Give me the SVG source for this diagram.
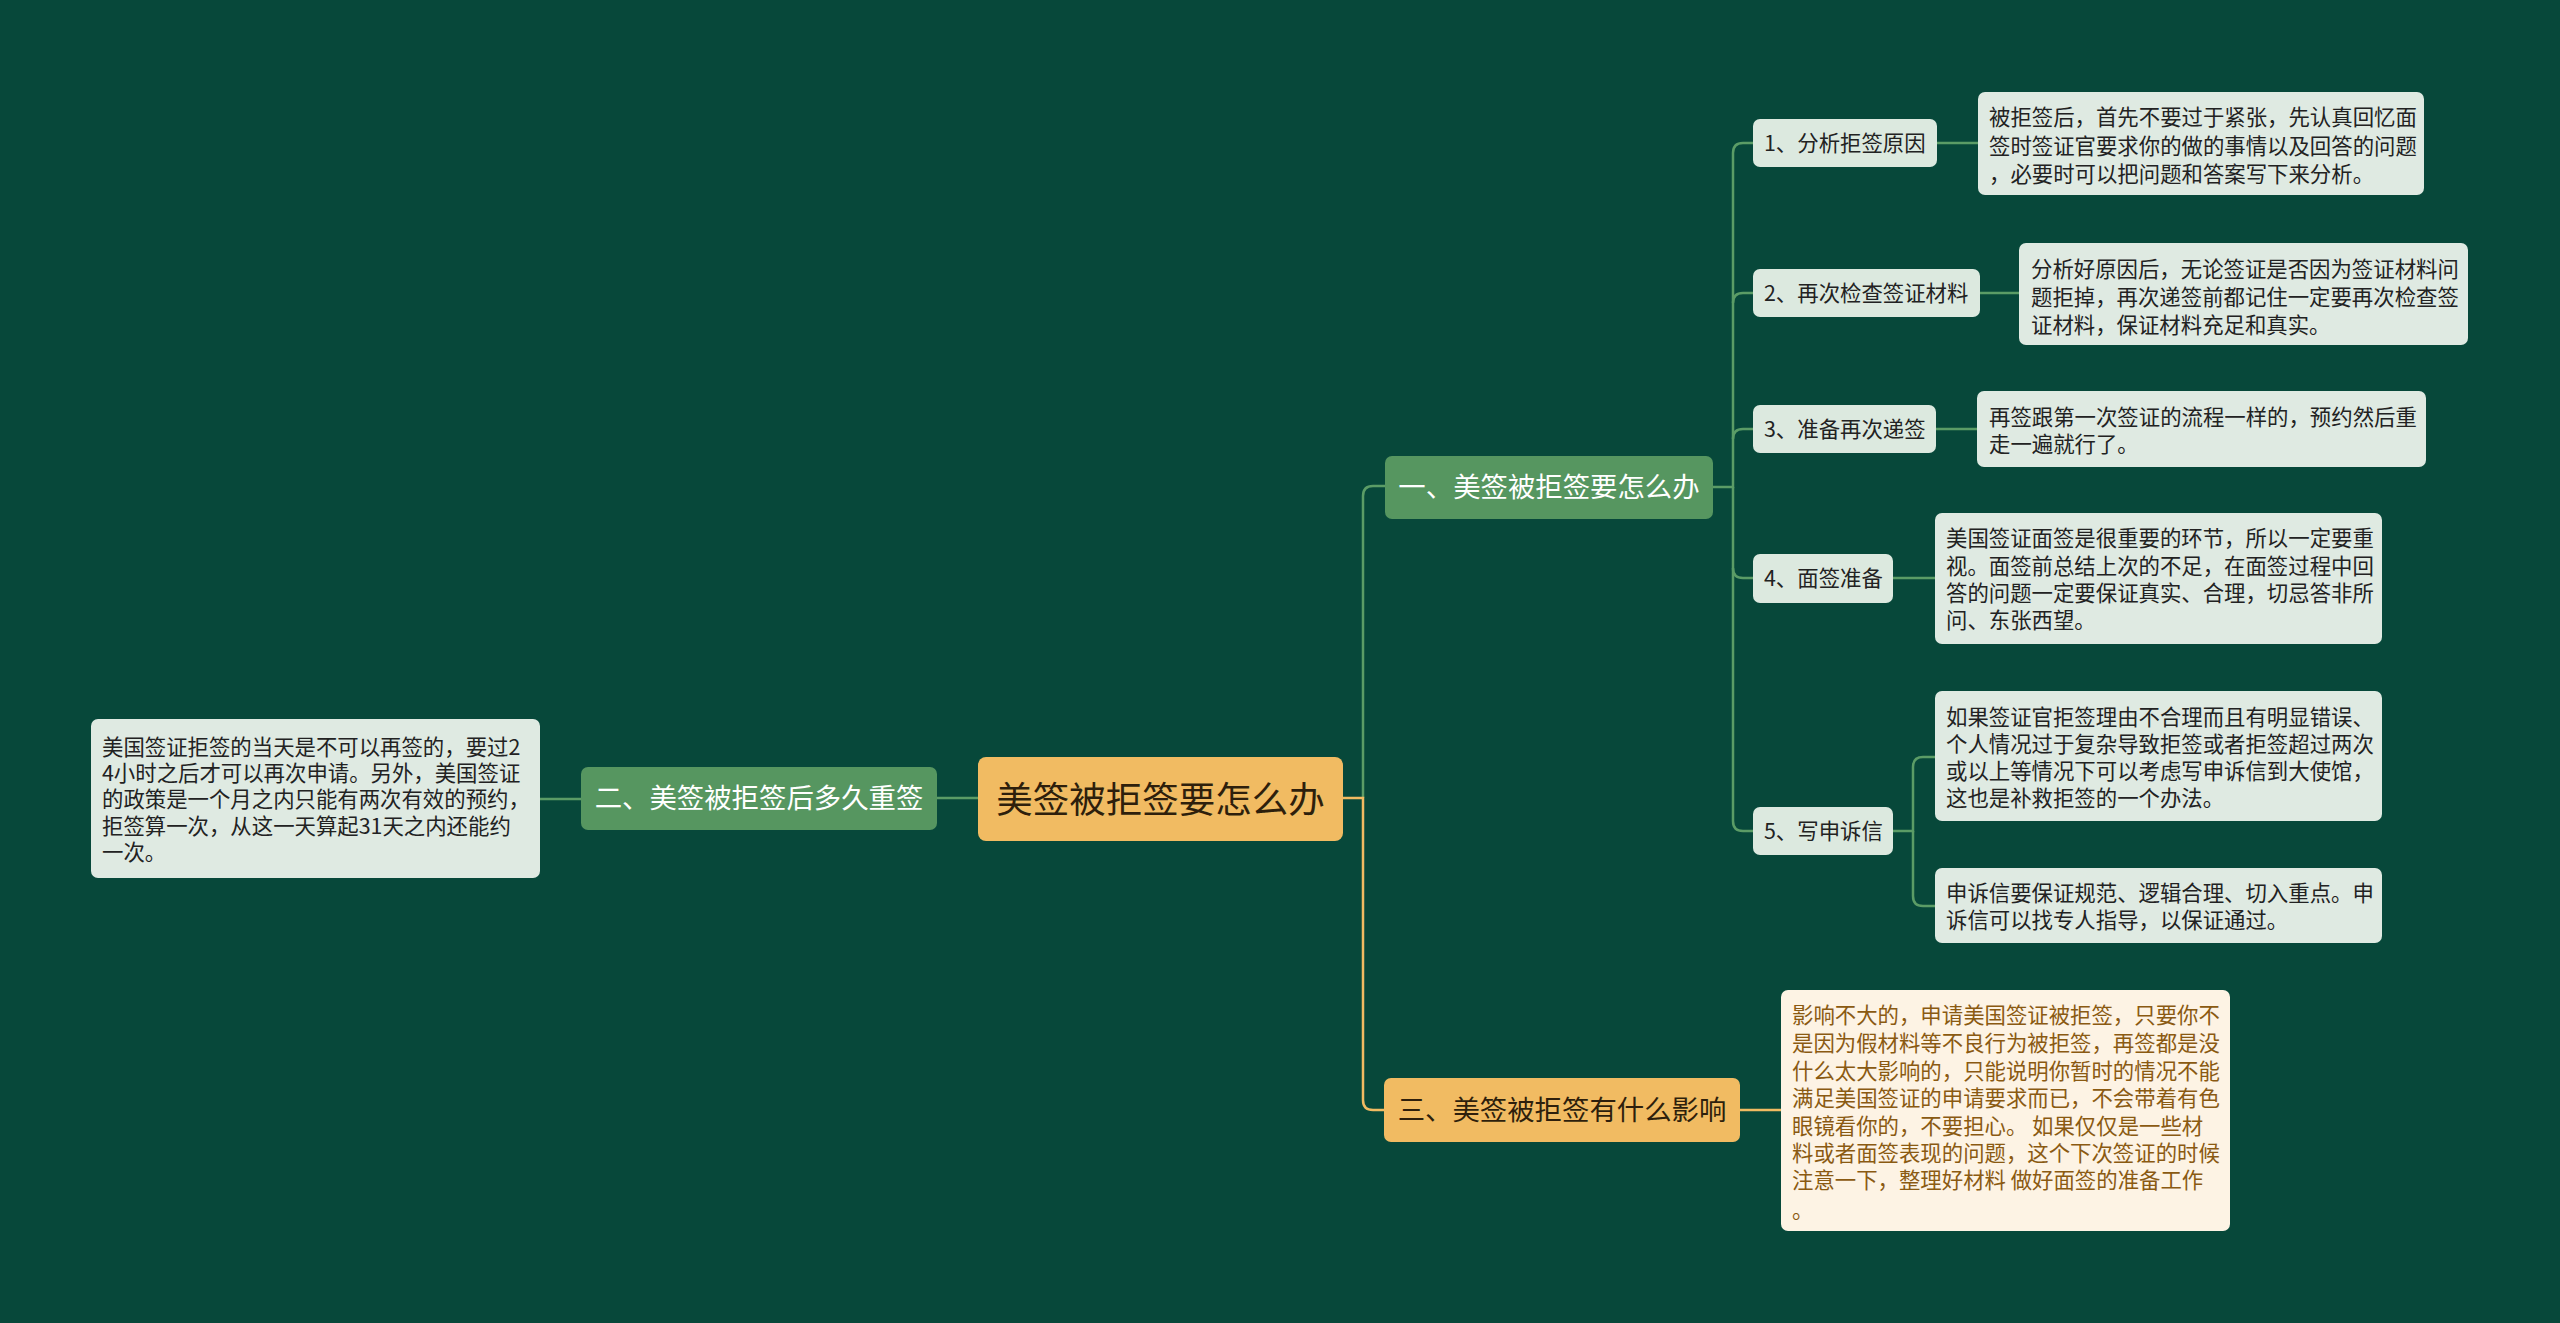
<svg xmlns="http://www.w3.org/2000/svg" width="2560" height="1323" viewBox="0 0 2560 1323">
<style>
text{font-family:"Noto Sans CJK SC","Noto Sans",sans-serif;dominant-baseline:central;transform:translate(0px,-2px)}
.bg{fill:#07483a}
.root rect{fill:#f1bb62}
.root text{font-size:36.5px;fill:#2e1f0c;text-anchor:middle}
.l1g rect{fill:#569660}
.l1g text{font-size:27.4px;fill:#ffffff;text-anchor:middle}
.l1y rect{fill:#f1bb62}
.l1y text{font-size:27.4px;fill:#2e1f0c;text-anchor:middle}
.sub rect{fill:#dce9df}
.sub text{font-size:21.4px;fill:#222222}
.desc rect{fill:#dfeae2}
.desc text{font-size:21.4px;fill:#222222}
.descy rect{fill:#fdf3e4}
.descy text{font-size:21.4px;fill:#8a5a12}
.cg{fill:none;stroke:#5b9c66;stroke-width:2.5}
.cy{fill:none;stroke:#f1bb62;stroke-width:2.5}
</style>
<rect class="bg" x="0" y="0" width="2560" height="1323"/>
<g id="connectors">
<path class="cg" d="M1363,798 V496 Q1363,486 1373,486 H1385"/>
<path class="cy" d="M1343,798 H1363 V1100 Q1363,1110 1373,1110 H1384"/>
<path class="cg" d="M978,798 H937"/>
<path class="cg" d="M581,799 H540"/>
<path class="cg" d="M1713,487 H1733 V153 Q1733,143 1743,143 H1753"/>
<path class="cg" d="M1733,303 Q1733,293 1743,293 H1753"/>
<path class="cg" d="M1733,439 Q1733,429 1743,429 H1753"/>
<path class="cg" d="M1733,487 V568 Q1733,578 1743,578 H1753"/>
<path class="cg" d="M1733,568 V821 Q1733,831 1743,831 H1753"/>
<path class="cg" d="M1937,143 H1978"/>
<path class="cg" d="M1980,293 H2019"/>
<path class="cg" d="M1936,429 H1977"/>
<path class="cg" d="M1893,578 H1935"/>
<path class="cg" d="M1893,831 H1913 V767 Q1913,757 1923,757 H1935"/>
<path class="cg" d="M1913,831 V896 Q1913,906 1923,906 H1935"/>
<path class="cy" d="M1740,1110 H1781"/>
</g>
<g id="root" class="root">
<rect x="978" y="757" width="365" height="84" rx="8"/>
<text x="1160.5" y="799">美签被拒签要怎么办</text>
</g>
<g id="b1" class="l1g">
<rect x="1385" y="456" width="328" height="63" rx="7"/>
<text x="1549" y="487">一、美签被拒签要怎么办</text>
</g>
<g id="b2" class="l1g">
<rect x="581" y="767" width="356" height="63" rx="7"/>
<text x="759" y="798">二、美签被拒签后多久重签</text>
</g>
<g id="b3" class="l1y">
<rect x="1384" y="1078" width="356" height="64" rx="7"/>
<text x="1562" y="1110">三、美签被拒签有什么影响</text>
</g>
<g id="s1" class="sub">
<rect x="1753" y="119" width="184" height="48" rx="7"/>
<text x="1764" y="143">1、分析拒签原因</text>
</g>
<g id="s2" class="sub">
<rect x="1753" y="269" width="227" height="48" rx="7"/>
<text x="1764" y="293">2、再次检查签证材料</text>
</g>
<g id="s3" class="sub">
<rect x="1753" y="405" width="183" height="48" rx="7"/>
<text x="1764" y="429">3、准备再次递签</text>
</g>
<g id="s4" class="sub">
<rect x="1753" y="554" width="140" height="49" rx="7"/>
<text x="1764" y="578">4、面签准备</text>
</g>
<g id="s5" class="sub">
<rect x="1753" y="807" width="140" height="48" rx="7"/>
<text x="1764" y="831">5、写申诉信</text>
</g>
<g id="d1" class="desc">
<rect x="1978" y="92" width="446" height="103" rx="7"/>
<text x="1989" y="117">被拒签后，首先不要过于紧张，先认真回忆面</text>
<text x="1989" y="146">签时签证官要求你的做的事情以及回答的问题</text>
<text x="1989" y="174">，必要时可以把问题和答案写下来分析。</text>
</g>
<g id="d2" class="desc">
<rect x="2019" y="243" width="449" height="102" rx="7"/>
<text x="2031" y="269">分析好原因后，无论签证是否因为签证材料问</text>
<text x="2031" y="297">题拒掉，再次递签前都记住一定要再次检查签</text>
<text x="2031" y="325">证材料，保证材料充足和真实。</text>
</g>
<g id="d3" class="desc">
<rect x="1977" y="391" width="449" height="76" rx="7"/>
<text x="1989" y="417">再签跟第一次签证的流程一样的，预约然后重</text>
<text x="1989" y="444">走一遍就行了。</text>
</g>
<g id="d4" class="desc">
<rect x="1935" y="513" width="447" height="131" rx="7"/>
<text x="1946" y="538">美国签证面签是很重要的环节，所以一定要重</text>
<text x="1946" y="566">视。面签前总结上次的不足，在面签过程中回</text>
<text x="1946" y="593">答的问题一定要保证真实、合理，切忌答非所</text>
<text x="1946" y="620">问、东张西望。</text>
</g>
<g id="d5a" class="desc">
<rect x="1935" y="691" width="447" height="130" rx="7"/>
<text x="1946" y="717">如果签证官拒签理由不合理而且有明显错误、</text>
<text x="1946" y="744">个人情况过于复杂导致拒签或者拒签超过两次</text>
<text x="1946" y="771">或以上等情况下可以考虑写申诉信到大使馆，</text>
<text x="1946" y="798">这也是补救拒签的一个办法。</text>
</g>
<g id="d5b" class="desc">
<rect x="1935" y="868" width="447" height="75" rx="7"/>
<text x="1946" y="893">申诉信要保证规范、逻辑合理、切入重点。申</text>
<text x="1946" y="920">诉信可以找专人指导，以保证通过。</text>
</g>
<g id="dl" class="desc">
<rect x="91" y="719" width="449" height="159" rx="7"/>
<text x="102" y="747">美国签证拒签的当天是不可以再签的，要过2</text>
<text x="102" y="773">4小时之后才可以再次申请。另外，美国签证</text>
<text x="102" y="799">的政策是一个月之内只能有两次有效的预约，</text>
<text x="102" y="826">拒签算一次，从这一天算起31天之内还能约</text>
<text x="102" y="852">一次。</text>
</g>
<g id="dy" class="descy">
<rect x="1781" y="990" width="449" height="241" rx="7"/>
<text x="1792" y="1015">影响不大的，申请美国签证被拒签，只要你不</text>
<text x="1792" y="1043">是因为假材料等不良行为被拒签，再签都是没</text>
<text x="1792" y="1071">什么太大影响的，只能说明你暂时的情况不能</text>
<text x="1792" y="1098">满足美国签证的申请要求而已，不会带着有色</text>
<text x="1792" y="1126">眼镜看你的，不要担心。 如果仅仅是一些材</text>
<text x="1792" y="1153">料或者面签表现的问题，这个下次签证的时候</text>
<text x="1792" y="1180">注意一下，整理好材料 做好面签的准备工作</text>
<text x="1792" y="1210">。</text>
</g>
</svg>
